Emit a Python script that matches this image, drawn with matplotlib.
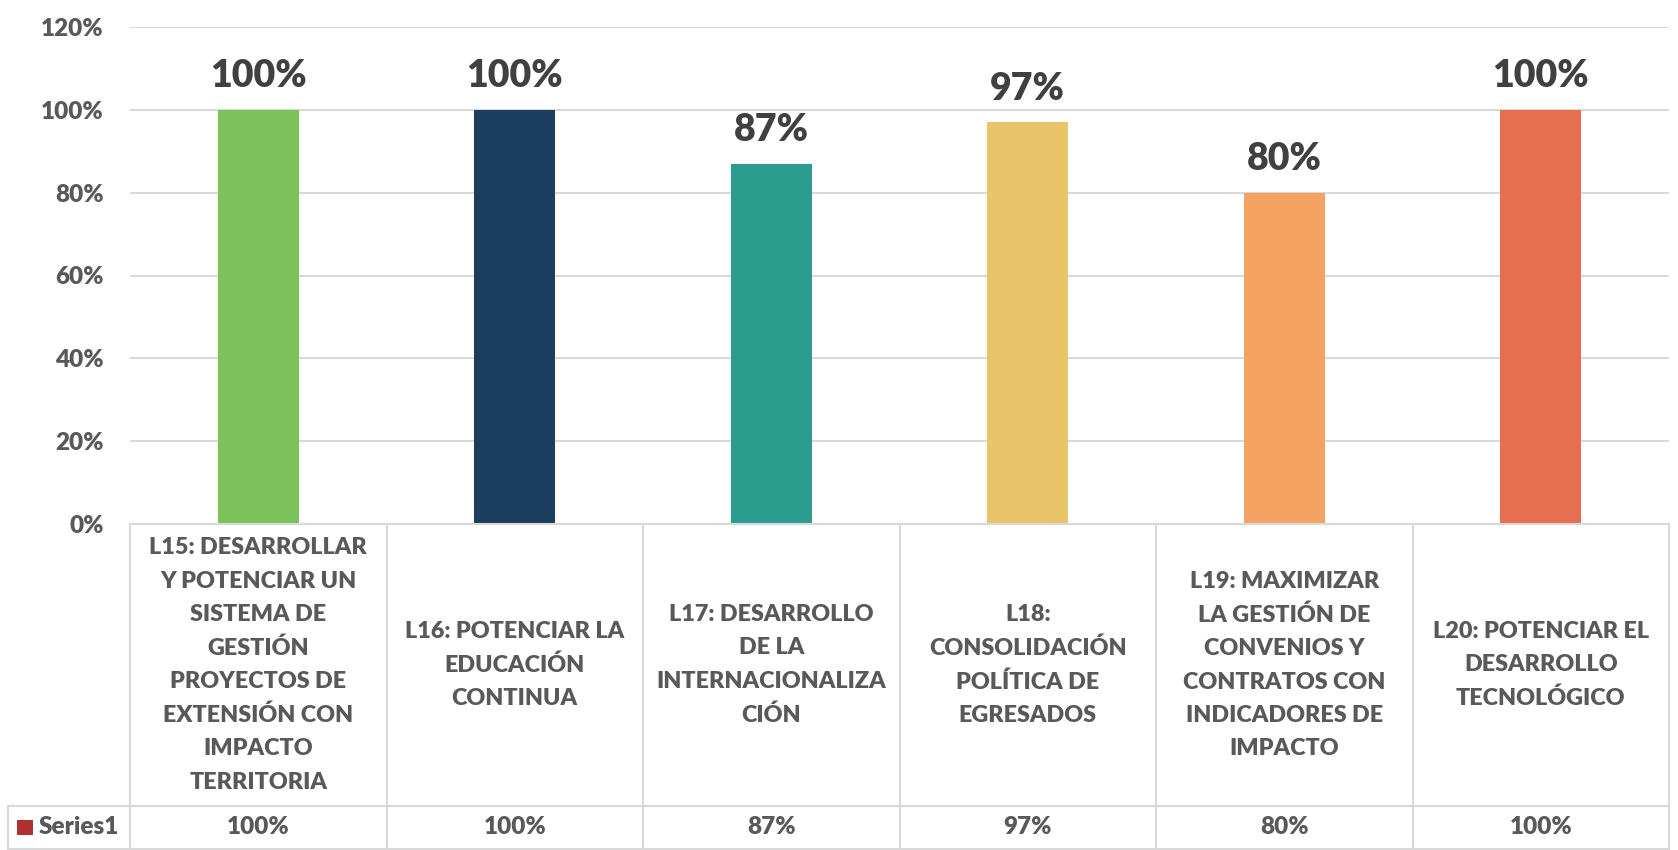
import matplotlib
matplotlib.use("Agg")
import matplotlib.pyplot as plt
from matplotlib.lines import Line2D
from matplotlib.patches import Rectangle

categories = [
    "L15: DESARROLLAR\nY POTENCIAR UN\nSISTEMA DE\nGESTIÓN\nPROYECTOS DE\nEXTENSIÓN CON\nIMPACTO\nTERRITORIA",
    "L16: POTENCIAR LA\nEDUCACIÓN\nCONTINUA",
    "L17: DESARROLLO\nDE LA\nINTERNACIONALIZA\nCIÓN",
    "L18:\nCONSOLIDACIÓN\nPOLÍTICA DE\nEGRESADOS",
    "L19: MAXIMIZAR\nLA GESTIÓN DE\nCONVENIOS Y\nCONTRATOS CON\nINDICADORES DE\nIMPACTO",
    "L20: POTENCIAR EL\nDESARROLLO\nTECNOLÓGICO",
]
values = [1.00, 1.00, 0.87, 0.97, 0.80, 1.00]
value_labels = ["100%", "100%", "87%", "97%", "80%", "100%"]
colors = ["#7DC15B", "#1B3D5E", "#2A9D8F", "#E9C46A", "#F4A261", "#E76F51"]
yticks = [0, 0.2, 0.4, 0.6, 0.8, 1.0, 1.2]
ytick_labels = ["0%", "20%", "40%", "60%", "80%", "100%", "120%"]
series_name = "Series1"

plt.rcParams['font.family'] = ['Lato', 'DejaVu Sans']
WT = "heavy"

W, H = 1678, 850
fig = plt.figure(figsize=(W / 100, H / 100), dpi=100)

def fx(px):
    return px / W

def fy(py):
    return 1 - py / H

left, right = 130, 1669
top, zero = 27, 524
rowsplit, bottom = 806, 849

ax = fig.add_axes([fx(left), fy(zero), fx(right) - fx(left), fy(top) - fy(zero)])
n = len(values)
x = list(range(n))
ax.bar(x, values, width=0.316, color=colors, zorder=3)
ax.set_xlim(-0.5, n - 0.5)
ax.set_ylim(0, 1.2)
ax.set_yticks(yticks)
ax.set_yticklabels(ytick_labels, fontsize=17.5, color="#595959", fontweight=WT)
ax.tick_params(axis="y", length=0, pad=19)
ax.set_xticks([])
ax.grid(axis="y", color="#D9D9D9", linewidth=1.5, zorder=0)
for s in ax.spines.values():
    s.set_visible(False)

for xi, v, lab in zip(x, values, value_labels):
    ax.annotate(lab, (xi, v), xytext=(0, 12), textcoords="offset points",
                ha="center", va="bottom", fontsize=27, fontweight=WT,
                color="#404040")

# table
tax = fig.add_axes([fx(left), fy(bottom), fx(right) - fx(left), fy(zero) - fy(bottom)])
tax.set_xlim(-0.5, n - 0.5)
tax.set_ylim(bottom, zero)
tax.axis("off")
lc = "#D9D9D9"
lw = 1.5
for b in range(n + 1):
    tax.add_line(Line2D([b - 0.5, b - 0.5], [zero, bottom], color=lc, lw=lw, clip_on=False))
fig.add_artist(Line2D([fx(left), fx(right)], [fy(zero), fy(zero)], color=lc, lw=lw))
fig.add_artist(Line2D([fx(8), fx(right)], [fy(rowsplit), fy(rowsplit)], color=lc, lw=lw))
fig.add_artist(Line2D([fx(8), fx(right)], [fy(bottom), fy(bottom)], color=lc, lw=lw))
fig.add_artist(Line2D([fx(8), fx(8)], [fy(rowsplit), fy(bottom)], color=lc, lw=lw))

mid_cat = (zero + rowsplit) / 2
mid_val = (rowsplit + bottom) / 2
for xi, cat, lab in zip(x, categories, value_labels):
    tax.text(xi, mid_cat, cat, ha="center", va="center", fontsize=16.8,
             fontweight=WT, color="#595959", linespacing=1.72)
    tax.text(xi, mid_val, lab, ha="center", va="center", fontsize=17.5,
             fontweight=WT, color="#595959")

fig.add_artist(Rectangle((fx(17), fy(835)), fx(16), fy(820) - fy(835),
                         facecolor="#B03030", edgecolor="none"))
fig.text(fx(39), fy(mid_val), series_name, ha="left", va="center", fontsize=17.5,
         fontweight=WT, color="#595959")

fig.savefig("out.png", dpi=100, facecolor="white")
